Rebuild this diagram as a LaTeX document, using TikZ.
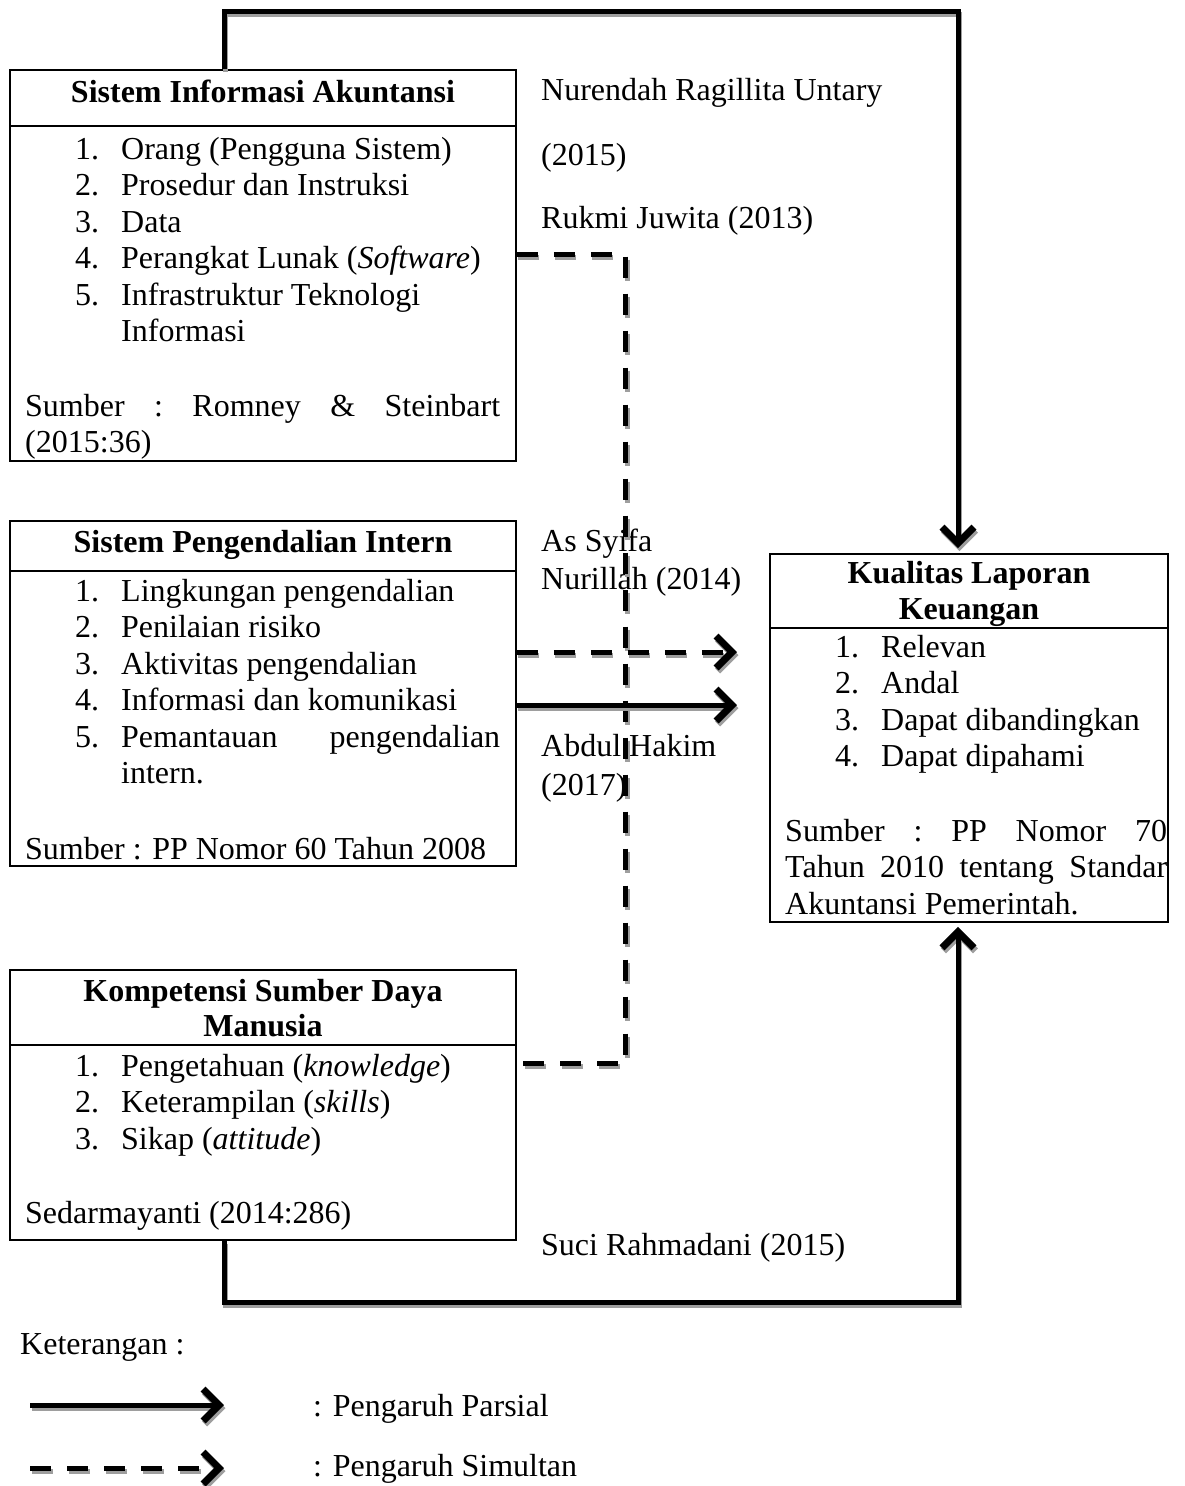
\documentclass[tikz,border=0pt]{standalone}
\usepackage{fontspec}
\setmainfont{Liberation Serif}
\usetikzlibrary{arrows.meta}

\tikzset{
  kotak/.style={draw, line width=1.8pt, inner sep=0pt},
  teks/.style={anchor=base west, inner sep=0pt, font=\fontsize{32}{37}\selectfont},
  judul/.style={anchor=base, inner sep=0pt, font=\fontsize{32}{37}\selectfont\bfseries},
  garis/.style={line width=5pt},
  panah/.style={line width=5pt, -{Straight Barb[length=16pt,width=32pt,line width=7pt]}},
  putus/.style={dash pattern=on 21pt off 16pt},
  bayang/.style={draw=black!38, transform canvas={shift={(1.5pt,-3pt)}}},
}
% connector with grey shadow underneath
\newcommand\tarik[2][]{\draw[#1,bayang] #2; \draw[#1] #2;}

\begin{document}
\begin{tikzpicture}[x=1pt, y=-1pt]
  \useasboundingbox (0,0) rectangle (1184,1486);

  % boxes
  \node[kotak, minimum width=506pt, minimum height=391pt] (sia) at (263,265.5) {};
  \node[kotak, minimum width=506pt, minimum height=345pt] (spi) at (263,693.5) {};
  \node[kotak, minimum width=506pt, minimum height=270pt] (ksdm) at (263,1105) {};
  \node[kotak, minimum width=398pt, minimum height=368pt] (klk) at (969,738) {};
  \draw[line width=1.8pt] ([yshift=-57pt]sia.north west) -- ([yshift=-57pt]sia.north east);
  \draw[line width=1.8pt] ([yshift=-51pt]spi.north west) -- ([yshift=-51pt]spi.north east);
  \draw[line width=1.8pt] ([yshift=-76pt]ksdm.north west) -- ([yshift=-76pt]ksdm.north east);
  \draw[line width=1.8pt] ([yshift=-75pt]klk.north west) -- ([yshift=-75pt]klk.north east);

  % Sistem Informasi Akuntansi
  \node[judul] (sia-judul) at (263,102) {Sistem Informasi Akuntansi};
  \node[teks] (sia-n1) at (75,159) {1.};
  \node[teks] (sia-1) at (121,159) {Orang (Pengguna Sistem)};
  \node[teks] (sia-n2) at (75,195.5) {2.};
  \node[teks] (sia-2) at (121,195.5) {Prosedur dan Instruksi};
  \node[teks] (sia-n3) at (75,232) {3.};
  \node[teks] (sia-3) at (121,232) {Data};
  \node[teks] (sia-n4) at (75,268.5) {4.};
  \node[teks] (sia-4) at (121,268.5) {Perangkat Lunak (\textit{Software})};
  \node[teks] (sia-n5) at (75,305) {5.};
  \node[teks] (sia-5) at (121,305) {Infrastruktur Teknologi};
  \node[teks] (sia-5b) at (121,341.5) {Informasi};
  \node[teks] (sia-sumber) at (25,416) {\makebox[475pt][l]{Sumber\hfill:\hfill Romney\hfill\&\hfill Steinbart}};
  \node[teks] (sia-tahun) at (25,452) {(2015:36)};

  % Sistem Pengendalian Intern
  \node[judul] (spi-judul) at (263,552) {Sistem Pengendalian Intern};
  \node[teks] (spi-n1) at (75,601) {1.};
  \node[teks] (spi-1) at (121,601) {Lingkungan pengendalian};
  \node[teks] (spi-n2) at (75,637.5) {2.};
  \node[teks] (spi-2) at (121,637.5) {Penilaian risiko};
  \node[teks] (spi-n3) at (75,674) {3.};
  \node[teks] (spi-3) at (121,674) {Aktivitas pengendalian};
  \node[teks] (spi-n4) at (75,710.5) {4.};
  \node[teks] (spi-4) at (121,710.5) {Informasi dan komunikasi};
  \node[teks] (spi-n5) at (75,747) {5.};
  \node[teks] (spi-5) at (121,747) {\makebox[379pt][l]{Pemantauan\hfill pengendalian}};
  \node[teks] (spi-5b) at (121,783.5) {intern.};
  \node[teks] (spi-sumber) at (25,859) {Sumber : PP Nomor 60 Tahun 2008};

  % Kompetensi Sumber Daya Manusia
  \node[judul] (ksdm-judul) at (263,1001) {Kompetensi Sumber Daya};
  \node[judul] (ksdm-judul2) at (263,1036) {Manusia};
  \node[teks] (ksdm-n1) at (75,1076) {1.};
  \node[teks] (ksdm-1) at (121,1076) {Pengetahuan (\textit{knowledge})};
  \node[teks] (ksdm-n2) at (75,1112.5) {2.};
  \node[teks] (ksdm-2) at (121,1112.5) {Keterampilan (\textit{skills})};
  \node[teks] (ksdm-n3) at (75,1149) {3.};
  \node[teks] (ksdm-3) at (121,1149) {Sikap (\textit{attitude})};
  \node[teks] (ksdm-sumber) at (25,1223) {Sedarmayanti (2014:286)};

  % Kualitas Laporan Keuangan
  \node[judul] (klk-judul) at (969,583) {Kualitas Laporan};
  \node[judul] (klk-judul2) at (969,619) {Keuangan};
  \node[teks] (klk-n1) at (835,657) {1.};
  \node[teks] (klk-1) at (881,657) {Relevan};
  \node[teks] (klk-n2) at (835,693.5) {2.};
  \node[teks] (klk-2) at (881,693.5) {Andal};
  \node[teks] (klk-n3) at (835,730) {3.};
  \node[teks] (klk-3) at (881,730) {Dapat dibandingkan};
  \node[teks] (klk-n4) at (835,766.5) {4.};
  \node[teks] (klk-4) at (881,766.5) {Dapat dipahami};
  \node[teks] (klk-sumber) at (785,841) {\makebox[382pt][l]{Sumber\hfill:\hfill PP\hfill Nomor\hfill 70}};
  \node[teks] (klk-sumber2) at (785,877.5) {\makebox[382pt][l]{Tahun\hfill 2010\hfill tentang\hfill Standar}};
  \node[teks] (klk-sumber3) at (785,914) {Akuntansi Pemerintah.};

  % peneliti terdahulu
  \node[teks] (untary) at (541,100) {Nurendah Ragillita Untary};
  \node[teks] (untary2) at (541,165) {(2015)};
  \node[teks] (juwita) at (541,228) {Rukmi Juwita (2013)};
  \node[teks] (syifa) at (541,551) {As Syifa};
  \node[teks] (syifa2) at (541,589) {Nurillah (2014)};
  \node[teks] (hakim) at (541,756) {Abdul Hakim};
  \node[teks] (hakim2) at (541,795) {(2017)};
  \node[teks] (suci) at (541,1255) {Suci Rahmadani (2015)};

  % keterangan
  \node[teks] (ket) at (20,1354) {Keterangan :};
  \node[teks] (ket-parsial) at (313,1416) {: Pengaruh Parsial};
  \node[teks] (ket-simultan) at (313,1476) {: Pengaruh Simultan};
  \coordinate (l1a) at (30,1405);
  \coordinate (l1b) at (224,1405);
  \coordinate (l2a) at (30,1468);
  \coordinate (l2b) at (224,1468);
  \coordinate (ujung-putus) at (737,652);
  \coordinate (ujung-garis) at (737,705);

  % connectors
  \tarik[panah]{([xshift=215pt]sia.north west) -- ++(0,-58) -| ([xshift=-11pt,yshift=5pt]klk.north)}
  \tarik[panah]{([xshift=215pt]ksdm.south west) -- ++(0,62) -| ([xshift=-11pt,yshift=-4pt]klk.south)}
  \tarik[garis,putus]{([yshift=11pt]sia.east) -- ++(109,0) |- ([yshift=42pt]ksdm.east)}
  \tarik[panah,putus]{([yshift=41.5pt]spi.east) -- (ujung-putus)}
  \tarik[panah]{([yshift=-11.5pt]spi.east) -- (ujung-garis)}
  \tarik[panah]{(l1a) -- (l1b)}
  \tarik[panah,putus]{(l2a) -- (l2b)}
\end{tikzpicture}
\end{document}
